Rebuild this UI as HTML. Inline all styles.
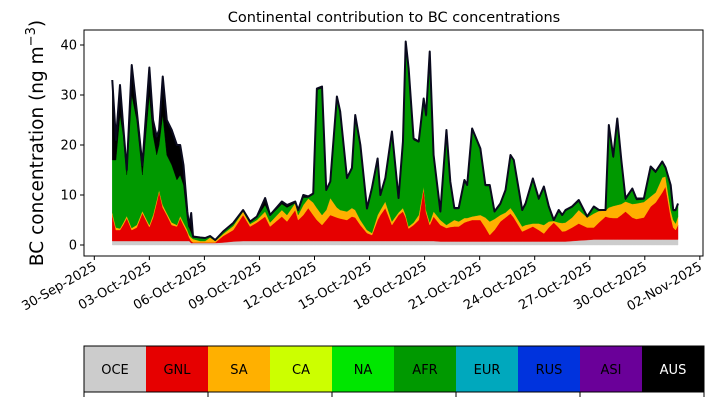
<!DOCTYPE html>
<html><head><meta charset="utf-8"><style>
body{margin:0;background:#fff;}
svg{display:block;font-family:"DejaVu Sans","Liberation Sans",sans-serif;}
</style></head><body>
<svg id="chart" width="714" height="402" viewBox="0 0 714 402">
<rect x="0" y="0" width="714" height="402" fill="#fff"/>
<text x="394" y="22" font-size="14.5" text-anchor="middle">Continental contribution to BC concentrations</text>
<g id="plot"></g>
<text transform="translate(43,143) rotate(-90)" font-size="18.5" text-anchor="middle">BC concentration (ng m<tspan dy="-8" font-size="13">−3</tspan><tspan dy="8">)</tspan></text>
<g id="cbar"></g>
</svg>
<script>
// days since 30-Sep-2025
const times=[0.98,1.18,1.40,1.57,1.77,2.04,2.31,2.62,3.00,3.20,3.40,3.53,3.73,3.95,4.22,4.50,4.68,4.86,5.07,5.17,5.28,5.38,5.77,6.04,6.31,6.59,7.02,7.57,8.11,8.49,8.86,9.31,9.58,10.22,10.50,10.95,11.11,11.39,11.66,11.93,12.13,12.41,12.64,12.86,13.22,13.40,13.77,14.04,14.22,14.50,14.86,15.13,15.44,15.59,15.86,16.22,16.58,16.82,16.97,17.13,17.40,17.68,17.95,18.08,18.28,18.49,18.86,19.19,19.40,19.62,19.86,20.17,20.32,20.59,21.04,21.31,21.55,21.81,22.13,22.41,22.68,22.86,23.32,23.50,23.90,24.22,24.50,24.77,25.04,25.31,25.50,25.68,26.04,26.40,26.86,27.22,27.50,27.86,28.04,28.28,28.50,28.72,28.95,29.32,29.54,29.95,30.32,30.59,30.95,31.13,31.41,31.55,31.68,31.81];
const oce=[.8,.8,.8,.8,.8,.8,.8,.8,.8,.8,.8,.8,.8,.8,.8,.8,.8,.8,.8,.8,.4,.4,.4,.4,.4,.4,.5,.7,.8,.8,.8,.8,.8,.8,.8,.8,.8,.8,.8,.8,.8,.8,.8,.8,.8,.8,.8,.8,.8,.8,.8,.8,.8,.8,.8,.8,.8,.8,.8,.8,.8,.8,.8,.8,.8,.8,.7,.7,.7,.7,.7,.7,.7,.7,.7,.7,.7,.7,.7,.7,.7,.7,.7,.7,.7,.7,.7,.7,.7,.7,.7,.7,.8,.9,1.0,1.1,1.1,1.1,1.1,1.1,1.1,1.1,1.1,1.1,1.1,1.1,1.1,1.1,1.1,1.1,1.1,1.1,1.1,1.1];
const gnl=[5.2,2.2,2.2,3.2,4.6,2.2,2.7,5.6,2.8,4.7,7.7,9.9,6.7,5.2,3.2,2.9,4.6,3.2,1.7,.7,.4,.1,.1,.1,.1,.1,1.3,2.3,5.2,2.9,3.7,4.9,2.9,4.9,3.9,6.2,4.2,5.2,6.6,5.2,4.2,3.2,4.2,5.2,4.7,4.5,4.2,4.9,4.7,3.2,1.6,1.2,4.2,5.2,6.6,3.2,5.2,5.9,4.7,2.5,3.2,4.2,10.5,5.7,3.2,4.9,3.3,2.7,2.9,3.0,3.0,3.8,4.0,4.3,4.3,2.8,1.3,2.3,4.0,4.8,5.6,4.8,2.0,2.3,3.0,2.3,1.6,2.8,3.8,2.8,2.0,2.1,2.7,3.4,2.5,2.4,3.4,4.6,4.4,4.3,4.3,4.9,5.6,4.4,4.1,4.4,6.6,7.4,9.4,10.6,4.6,2.4,1.9,2.9];
const sa=[.5,.5,.3,.4,.4,.4,.5,.4,.4,.5,.5,.3,.5,.4,.5,.3,.4,.5,.5,.5,.7,.7,.3,.3,1.0,.3,.4,.8,.7,.5,.5,1.0,.8,1.3,1.3,1.4,1.0,2.0,1.9,2.5,2.4,2.0,2.0,3.4,2.0,1.7,1.7,1.7,1.5,1.0,.6,.4,1.0,1.0,1.3,.7,.5,.7,.5,.4,.5,1.0,.4,.5,.5,1.0,1.0,.6,.9,1.3,1.0,.9,.7,.7,1.0,2.0,2.7,2.2,1.3,1.0,1.1,1.0,1.0,1.0,.6,1.3,1.7,1.2,.3,1.0,1.7,1.7,2.0,2.7,2.0,2.8,2.3,1.2,2.0,2.4,2.6,2.2,2.0,2.7,3.1,3.1,2.0,2.0,3.0,2.0,1.3,1.5,1.3,1.7];
const afr=[10.5,13.5,22.7,17.6,8.2,26.6,21,7.2,26,16,9,9,18,11.6,11.5,9,8.2,7.5,2,1.5,1,.3,.6,.5,.2,.2,.4,.4,.1,.3,.5,1.3,1.3,1.2,1.5,0,.8,1.5,.2,1.6,23.6,25.4,3.8,3.1,21.9,19.4,6.5,7.8,18.7,14.8,4.1,8.8,11,2.8,4.5,17.8,2.7,13.1,34.4,31.3,16.5,14.5,17.3,18.7,33.9,11.1,1.5,18.7,8,2.2,2.5,7.3,6.4,17.3,13,6.3,7.1,1.3,2,4.3,10.4,10.3,3.1,4,8.7,4.7,7.4,2.8,.2,2.3,1.4,2.3,2,1.7,.1,1.2,.1,.1,16.2,9.6,17,8.5,.3,2.8,.7,.5,5.7,3.9,2.9,1.5,4.8,1.8,2.5,2.3];
const aus=[16,4,6,2,1,6,2,2,5.5,3,3.7,3,7.7,7,7,7,6,4,1.7,.2,3.9,.2,.1,.1,.1,0,.1,.2,.2,.2,.2,1.4,.2,.5,.5,.3,.2,.5,.2,.2,.3,.3,.2,.2,.3,.3,.2,.2,.3,.2,.2,.2,.3,.2,.2,.2,.2,.2,.3,.3,.3,.2,.3,.3,.3,.2,.2,.3,.2,.2,.2,.3,.2,.3,.3,.2,.2,.2,.3,.2,.2,.2,.2,.3,.3,.3,.3,.2,0,.2,.2,.2,.2,.3,.1,.2,.1,0,.3,.3,.3,.3,.3,.3,.3,.2,.3,.3,.3,.3,.2,.2,.2,.3];
const seriesNames=['OCE','GNL','SA','AFR','AUS'];
const seriesColors=['#cccccc','#e60000','#ffb000','#009900','#000000'];
const yTicks=[0,10,20,30,40];
const xTickDays=[0,3,6,9,12,15,18,21,24,27,30,33];
const xTickLabels=['30-Sep-2025','03-Oct-2025','06-Oct-2025','09-Oct-2025','12-Oct-2025','15-Oct-2025','18-Oct-2025','21-Oct-2025','24-Oct-2025','27-Oct-2025','30-Oct-2025','02-Nov-2025'];
const legendNames=['OCE','GNL','SA','CA','NA','AFR','EUR','RUS','ASI','AUS'];
const legendColors=['#cccccc','#e60000','#ffb000','#ccff00','#00e600','#009900','#00a8bd','#0033dd','#6a0099','#000000'];

const NS='http://www.w3.org/2000/svg';
const AX={l:84,r:703,t:30,b:256};
const xS=d=>94.3+d*18.35;
const yS=v=>245-v*5;
function mk(tag,attrs,parent){const e=document.createElementNS(NS,tag);for(const k in attrs)e.setAttribute(k,attrs[k]);parent.appendChild(e);return e;}
const plot=document.getElementById('plot');
const series=[oce,gnl,sa,afr,aus];
let base=times.map(()=>0);
series.forEach((s,si)=>{
  const top=base.map((b,i)=>b+s[i]);
  let d='M'+times.map((t,i)=>xS(t).toFixed(2)+','+yS(top[i]).toFixed(2)).join('L');
  for(let i=times.length-1;i>=0;i--)d+='L'+xS(times[i]).toFixed(2)+','+yS(base[i]).toFixed(2);
  d+='Z';
  const p=mk('path',{d:d,fill:seriesColors[si],stroke:seriesColors[si],'stroke-width':0.4},plot);
  
  
  base=top;
});
const tl=mk('polyline',{points:times.map((t,i)=>xS(t).toFixed(2)+','+yS(base[i]).toFixed(2)).join(' '),fill:'none',stroke:'#0a0a1e','stroke-width':2,'stroke-linejoin':'round'},plot);


const fr=mk('rect',{x:AX.l,y:AX.t,width:AX.r-AX.l,height:AX.b-AX.t,fill:'none',stroke:'#000','stroke-width':1},plot);


yTicks.forEach(v=>{
  const y=yS(v);
  const l=mk('line',{x1:AX.l-4,x2:AX.l,y1:y,y2:y,stroke:'#000'},plot);
  
  
  const t=mk('text',{x:AX.l-7,y:y+4.5,'font-size':13,'text-anchor':'end'},plot);
  t.textContent=v;
  
  
});
xTickDays.forEach((d,i)=>{
  const x=xS(d);
  const l=mk('line',{x1:x,x2:x,y1:AX.b,y2:AX.b+4,stroke:'#000'},plot);
  
  
  const t=mk('text',{transform:'translate('+(x+3)+','+(AX.b+13)+') rotate(-30)','font-size':13,'text-anchor':'end'},plot);
  t.textContent=xTickLabels[i];
  
  
});
const cb=document.getElementById('cbar');
const cL=84,cR=704,cT=346,cB=392,w=(cR-cL)/legendNames.length;
legendNames.forEach((n,i)=>{
  const r=mk('rect',{x:cL+i*w,y:cT,width:w+0.3,height:cB-cT,fill:legendColors[i]},cb);
  
  
  const t=mk('text',{x:cL+i*w+w/2,y:(cT+cB)/2+5,'font-size':13,'text-anchor':'middle',fill:n==='AUS'?'#fff':'#000'},cb);
  t.textContent=n;
  
  
});
const cf=mk('rect',{x:cL,y:cT,width:cR-cL,height:cB-cT,fill:'none',stroke:'#000'},cb);


for(let k=0;k<=5;k++){
  const x=cL+k*2*w;
  const l=mk('line',{x1:x,x2:x,y1:cB,y2:cB+5,stroke:'#000'},cb);
  
  
}
</script>
</body></html>
